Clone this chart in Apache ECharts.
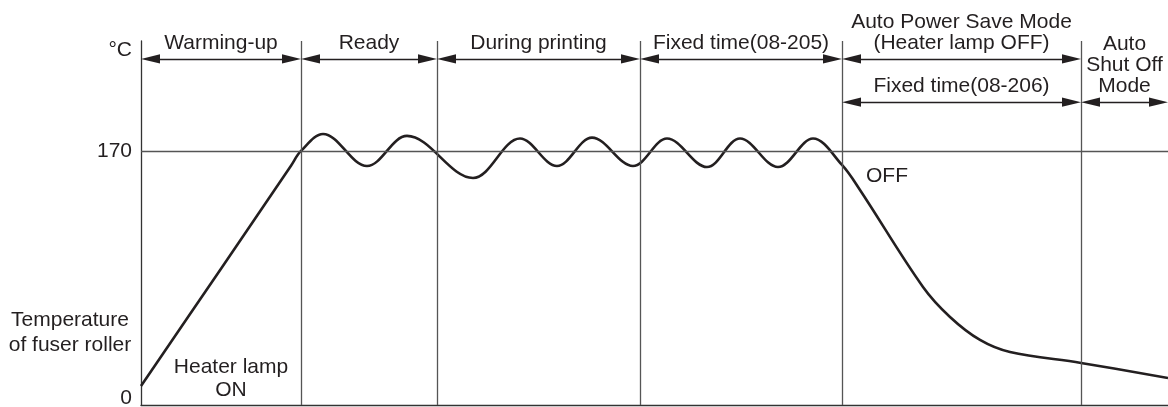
<!DOCTYPE html>
<html>
<head>
<meta charset="utf-8">
<script src="https://cdn.jsdelivr.net/npm/echarts@6.0.0/dist/echarts.min.js"></script>
<style>
  html, body { margin: 0; padding: 0; background: #fff; }
  #main { width: 1168px; height: 407px; }
</style>
</head>
<body>
<div id="main"></div>
<script>
// fuser roller temperature vs. time (time axis is in arbitrary units)
// ramp, then the peaks / troughs of the ripple, then the cool-down
var timeValues = [0, 80, 150, 160, 182, 226, 266, 332, 379, 416, 451, 492, 526, 566, 599, 637, 672,
  701, 719, 782, 809, 839, 869, 940, 1027];
var tempValues = [12.7, 91.4, 160.4, 170.3, 181.7, 160.2, 180.4, 152.2, 178.6, 160.2, 179.2, 160.2, 178.6, 159.5, 178.6, 159.5, 178.6,
  160.9, 144.1, 79.1, 59.0, 43.6, 35.5, 28.2, 18.1];

var phaseBounds = [0, 160, 296, 499, 701, 940];
var phaseLabels = ['Warming-up', 'Ready', 'During printing', 'Fixed time(08-205)', 'Auto Power Save Mode\n(Heater lamp OFF)'];
var timerBounds = [701, 940, 1027];
var timerLabels = ['Fixed time(08-206)', 'Auto\nShut Off\nMode'];
var yTickLabels = [0, 170];
var setTemp = 170;

var X_MAX = 1027, Y_MAX = 244;
var ROW1 = 232, ROW2 = 203;   // arrow rows (temperature units)
var HEAD = 19;                // arrow head length, px (1 time unit ~ 1 px)
// narrow filled triangle, padded to a square box so it is not stretched
var HEAD_PATH = 'path://M0,0M19,19M9.5,0L14.2,19L4.8,19Z';
var INK = '#231f20', RULE = '#555';
var FONT = 'Liberation Sans, Arial, Helvetica, sans-serif';

var chart = echarts.init(document.getElementById('main'));

function arrows(bounds, labels, row) {
  var out = [];
  for (var i = 0; i < labels.length; i++) {
    var lab = { show: true, formatter: labels[i], position: 'insideMiddleTop', distance: 5,
      color: INK, fontSize: 21, fontFamily: FONT, lineHeight: 21, align: 'center' };
    out.push([
      { coord: [bounds[i] + HEAD / 2, row], label: lab },
      { coord: [bounds[i + 1] - HEAD / 2, row], label: lab }
    ]);
  }
  return out;
}

var rulesData = [];
for (var i = 1; i < phaseBounds.length; i++) rulesData.push({ xAxis: phaseBounds[i] });
rulesData.push({ yAxis: setTemp });

var option = {
  animation: false,
  backgroundColor: '#fff',
  grid: { left: 141, right: 0, top: 41, bottom: 2, outerBoundsMode: 'none' },
  xAxis: {
    type: 'value', min: 0, max: X_MAX,
    axisLine: { show: true, lineStyle: { color: '#333', width: 1.3 } },
    axisTick: { show: false }, axisLabel: { show: false }, splitLine: { show: false }
  },
  yAxis: {
    type: 'value', min: 0, max: Y_MAX, interval: setTemp,
    axisLine: { show: true, lineStyle: { color: '#333', width: 1.3 } },
    axisTick: { show: false }, splitLine: { show: false },
    axisLabel: {
      color: INK, fontSize: 21, fontFamily: FONT, margin: 9, lineHeight: 13,
      showMaxLabel: false, verticalAlignMinLabel: 'bottom',
      formatter: function (v) { return yTickLabels.indexOf(v) >= 0 ? String(v) : ''; }
    }
  },
  graphic: [
    { type: 'text', x: 132, y: 50, style: { text: '°C', fill: INK, fontSize: 21, fontFamily: FONT, align: 'right', verticalAlign: 'middle' } },
    { type: 'text', x: 70, y: 333, style: { text: 'Temperature\nof fuser roller', fill: INK, fontSize: 21, fontFamily: FONT, lineHeight: 25, align: 'center', verticalAlign: 'middle' } },
    { type: 'text', x: 231, y: 379, style: { text: 'Heater lamp\nON', fill: INK, fontSize: 21, fontFamily: FONT, lineHeight: 23, align: 'center', verticalAlign: 'middle' } },
    { type: 'text', x: 866, y: 176, style: { text: 'OFF', fill: INK, fontSize: 21, fontFamily: FONT, align: 'left', verticalAlign: 'middle' } }
  ],
  series: [
    {
      type: 'line', data: [], z: 1, silent: true,
      markLine: {
        silent: true, symbol: 'none', label: { show: false },
        lineStyle: { color: RULE, width: 1.3, type: 'solid' },
        data: rulesData
      }
    },
    {
      type: 'line', data: [], z: 2, silent: true, clip: false,
      markLine: {
        silent: true, symbol: [HEAD_PATH, HEAD_PATH], symbolSize: HEAD,
        lineStyle: { color: INK, width: 1.3, type: 'solid' },
        itemStyle: { color: INK },
        data: arrows(phaseBounds, phaseLabels, ROW1).concat(arrows(timerBounds, timerLabels, ROW2))
      }
    },
    {
      type: 'line', z: 3, smooth: 0.36, symbol: 'none', clip: false,
      lineStyle: { color: INK, width: 2.6 },
      data: timeValues.map(function (t, i) { return [t, tempValues[i]]; })
    }
  ]
};

chart.setOption(option);
</script>
</body>
</html>
